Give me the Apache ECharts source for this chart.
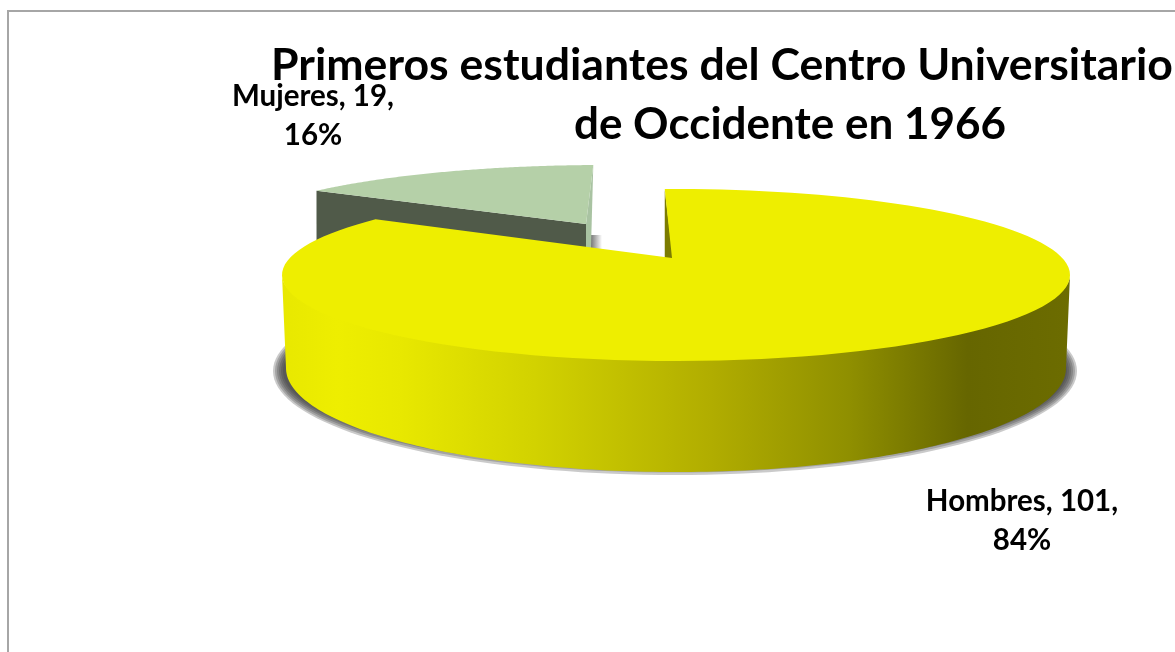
<!DOCTYPE html>
<html>
<head>
<meta charset="utf-8">
<style>
  html, body { margin: 0; height: 100%; background: #fff; }
  #main { width: 1175px; height: 652px; }
</style>
<script src="https://cdn.jsdelivr.net/npm/echarts@6/dist/echarts.min.js"></script>
</head>
<body>
<div id="main"></div>
<script>
const categories = ['Hombres', 'Mujeres'];
const values = [101, 19];
const titleLines = ['Primeros estudiantes del Centro Universitario', 'de Occidente en 1966'];

const FONT = 'Lato, "Open Sans", sans-serif';
const total = values[0] + values[1];
const startAngle = -2; // grados, en sentido horario desde arriba

// geometria de cada porcion: elipse superior en perspectiva y vertice
const sliceGeom = [
  { cx: 676, cy: 275, rx: 394, ry: 86, ax: 672, ay: 258, labelX: 1022, labelY: 521 },
  { cx: 604, cy: 240, rx: 381, ry: 75, ax: 586, ay: 224, labelX: 313, labelY: 116 }
];

function rimPoint(g, deg) {
  // circulo unidad -> elipse con el centro desplazado por la perspectiva
  const t = deg * Math.PI / 180;
  const u = Math.sin(t), v = -Math.cos(t);
  const c = g.ay - g.cy;
  const p = c / g.ry;
  const d = 1 + p * v;
  return [g.cx + g.rx * Math.sqrt(1 - p * p) * u / d, g.cy + (g.ry * v + c) / d];
}

function arcPoints(g, from, to) {
  const pts = [];
  const n = 120;
  for (let i = 0; i <= n; i++) pts.push(rimPoint(g, from + (to - from) * i / n));
  return pts;
}

function ellipsePoints(cx, cy, rx, ry, from, to) {
  const pts = [];
  const n = 160;
  for (let i = 0; i <= n; i++) {
    const t = from + (to - from) * i / n;
    pts.push([cx + rx * Math.cos(t), cy + ry * Math.sin(t)]);
  }
  return pts;
}

function poly(points, fill, z2, extra) {
  return Object.assign({ type: 'polygon', shape: { points: points }, style: { fill: fill }, z2: z2, silent: true }, extra || {});
}

function drawHombres(from, to, g, z) {
  const wallColor = new echarts.graphic.LinearGradient(0, 0, 1, 0, [
    { offset: 0, color: '#e8e800' },
    { offset: 0.07, color: '#eeee00' },
    { offset: 0.15, color: '#e8e800' },
    { offset: 0.32, color: '#d2d200' },
    { offset: 0.55, color: '#b0ac00' },
    { offset: 0.72, color: '#8f8f00' },
    { offset: 0.87, color: '#666600' },
    { offset: 1, color: '#6c6c00' }
  ]);
  // el borde superior de la pared queda bajo la cara superior
  const top = ellipsePoints(g.cx, g.cy, g.rx, g.ry - 8, Math.PI, 0);
  const bottom = ellipsePoints(676, 368, 390, 104, 0, Math.PI);
  const start = rimPoint(g, from);
  const marks = [];
  // sombra difusa: elipses apiladas semitransparentes
  for (let i = 0; i < 6; i++) {
    const shadow = ellipsePoints(675, 371, 392 + i * 2, 92 + i * 2.4, 0, Math.PI * 2);
    marks.push(poly(shadow, 'rgba(60,60,60,0.27)', z - 1));
  }
  marks.push(
    poly(top.concat(bottom), wallColor, z),
    poly([[start[0], start[1] + 1], [start[0], g.ay], [g.ax + 1, g.ay]], '#7c7c00', z),
    poly([[g.ax, g.ay]].concat(arcPoints(g, from, to)), '#eeee00', z + 1)
  );
  return marks;
}

function drawMujeres(from, to, g, z) {
  const arc = arcPoints(g, from, to);
  const left = arc[0], right = arc[arc.length - 1];
  const depth = 58;
  const glow = new echarts.graphic.LinearGradient(0, 0, 1, 0, [
    { offset: 0, color: '#777777' },
    { offset: 1, color: '#ffffff' }
  ]);
  return [
    poly([[591, 235], [602, 235], [602, 250], [591, 250]], glow, z),
    poly([right, [g.ax, g.ay], [g.ax, g.ay + 24], [591, g.ay + 24]], '#a9c3a2', z),
    poly([left, [g.ax, g.ay], [g.ax, g.ay + 24], [left[0], left[1] + depth]], '#505a49', z),
    poly([[g.ax, g.ay]].concat(arc), '#b5d0a8', z + 1)
  ];
}

function sliceLabel(idx, g) {
  const pct = Math.round(values[idx] / total * 100);
  return {
    type: 'text',
    z2: 10,
    silent: true,
    style: {
      x: g.labelX,
      y: g.labelY,
      text: categories[idx] + ', ' + values[idx] + ',\n' + pct + '%',
      font: 'bold 29.5px ' + FONT,
      lineHeight: 39,
      fill: '#000',
      align: 'center',
      verticalAlign: 'middle'
    }
  };
}

function renderSlice(params) {
  const idx = params.dataIndex;
  const g = sliceGeom[idx];
  let from = startAngle;
  for (let i = 0; i < idx; i++) from += values[i] / total * 360;
  const to = from + values[idx] / total * 360;
  const marks = idx === 0 ? drawHombres(from, to, g, 4) : drawMujeres(from, to, g, 2);
  marks.push(sliceLabel(idx, g));
  return { type: 'group', children: marks };
}

const chart = echarts.init(document.getElementById('main'));

chart.setOption({
  animation: false,
  backgroundColor: '#fff',
  title: [
    { text: titleLines[0], left: 717, top: 38, textAlign: 'center', textStyle: { fontFamily: FONT, fontWeight: 'bold', fontSize: 44.6, color: '#000' } },
    { text: titleLines[1], left: 785, top: 98, textAlign: 'center', textStyle: { fontFamily: FONT, fontWeight: 'bold', fontSize: 44, color: '#000' } }
  ],
  graphic: [
    { type: 'line', silent: true, shape: { x1: 8, y1: 11, x2: 1175, y2: 11 }, style: { stroke: '#a6a6a6', lineWidth: 2 } },
    { type: 'line', silent: true, shape: { x1: 8, y1: 10, x2: 8, y2: 652 }, style: { stroke: '#a6a6a6', lineWidth: 2 } }
  ],
  series: [{
    type: 'custom',
    coordinateSystem: 'none',
    silent: true,
    data: categories.map(function (name, i) { return { name: name, value: values[i] }; }),
    renderItem: renderSlice
  }]
});

window.addEventListener('resize', () => {
  chart && chart.resize();
});
</script>
</body>
</html>
